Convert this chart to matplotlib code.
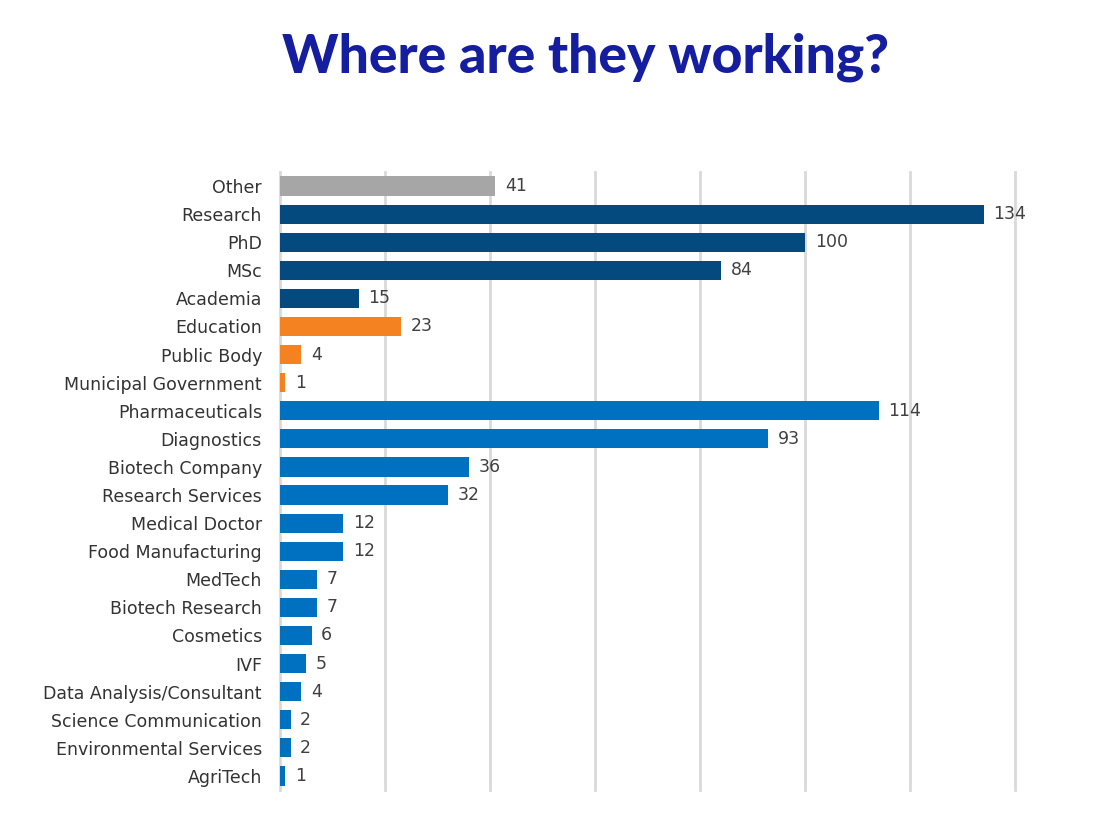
import matplotlib
matplotlib.use("Agg")
import matplotlib.pyplot as plt

categories = ["Other", "Research", "PhD", "MSc", "Academia", "Education", "Public Body",
              "Municipal Government", "Pharmaceuticals", "Diagnostics", "Biotech Company",
              "Research Services", "Medical Doctor", "Food Manufacturing", "MedTech",
              "Biotech Research", "Cosmetics", "IVF", "Data Analysis/Consultant",
              "Science Communication", "Environmental Services", "AgriTech"]
values = [41, 134, 100, 84, 15, 23, 4, 1, 114, 93, 36, 32, 12, 12, 7, 7, 6, 5, 4, 2, 2, 1]
groups = ["other", "academic", "academic", "academic", "academic", "public", "public",
          "public", "industry", "industry", "industry", "industry", "industry", "industry",
          "industry", "industry", "industry", "industry", "industry", "industry", "industry",
          "industry"]
group_colors = {"other": "#A6A6A6", "academic": "#044A7E", "public": "#F58220",
                "industry": "#0070C0"}

fig = plt.figure(figsize=(10.98, 8.34), dpi=100)
ax = fig.add_axes([280/1098, 1-790/834, 735/1098, (790-172)/834])

n = len(categories)
pos = list(range(n))
colors = [group_colors[g] for g in groups]
ax.barh(pos, values, height=0.68, color=colors, zorder=3)
ax.set_ylim(n - 0.5, -0.5)
ax.set_xlim(0, 140)
ax.set_xticks(range(0, 141, 20))
ax.set_xticklabels([])
ax.set_yticks(pos)
ax.set_yticklabels(categories, fontsize=12.5, color="#333333")
ax.tick_params(axis="both", length=0)
ax.tick_params(axis="y", pad=13)
ax.grid(axis="x", color="#D9D9D9", linewidth=2, zorder=0)
for gl in ax.get_xgridlines():
    gl.set_clip_on(False)
for s in ax.spines.values():
    s.set_visible(False)

for p, v in zip(pos, values):
    ax.annotate(str(v), (v, p), xytext=(7, 0), textcoords="offset points",
                va="center", ha="left", fontsize=12.5, color="#404040")

fig.text(586/1098, 1-57/834, "Where are they working?", ha="center", va="center",
         fontsize=38.5, fontweight=900, family=["Lato", "DejaVu Sans"],
         color="#141E9E")

fig.savefig("out.png", dpi=100)
